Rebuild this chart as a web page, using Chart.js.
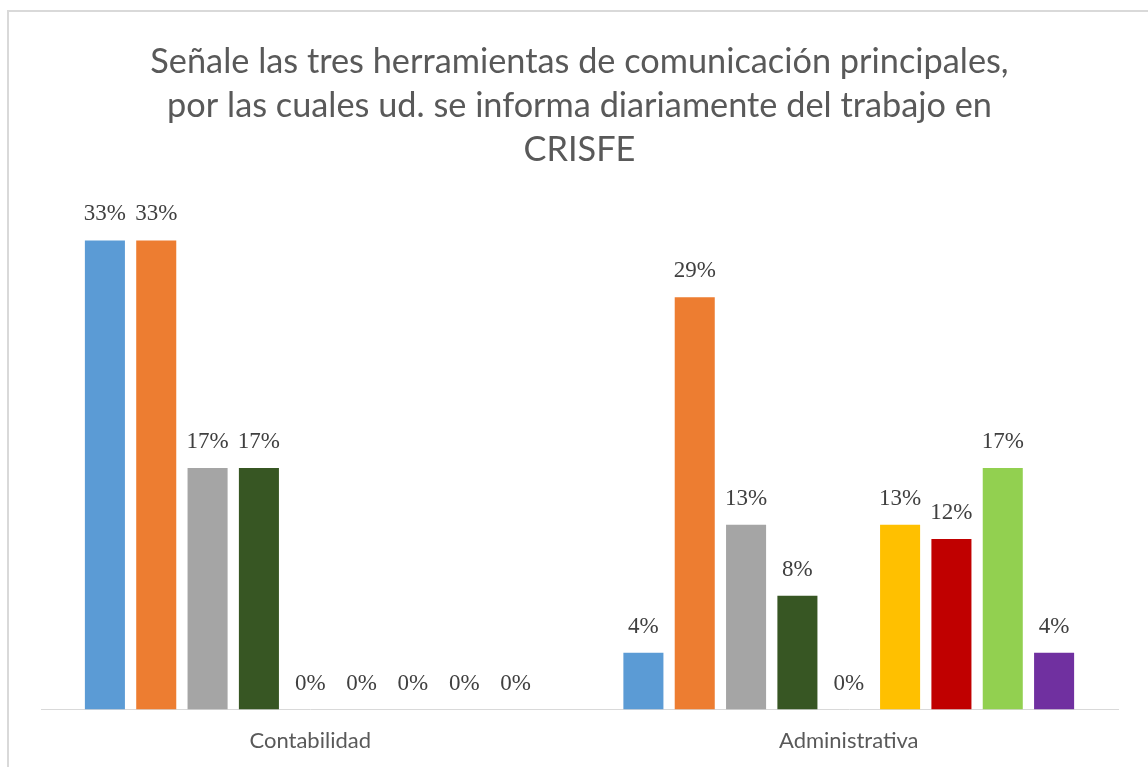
<!DOCTYPE html>
<html>
<head>
<meta charset="utf-8">
<script src="https://cdn.jsdelivr.net/npm/chart.js@4.4.0/dist/chart.umd.min.js"></script>
<style>
    html, body { margin: 0; padding: 0; background: #fff; overflow: hidden; }
    #frame { position: absolute; left: 7px; top: 10px; width: 1160px; height: 780px; border: 2px solid #d9d9d9; box-sizing: border-box; }
    #wrap { position: absolute; left: 0; top: 0; width: 1148px; height: 772px; }
</style>
</head>
<body>
<div id="frame"></div>
<div id="wrap"><canvas id="chart"></canvas></div>
<script>
// Data (shares of answers)
const categories = ['Contabilidad', 'Administrativa'];
const seriesNames = ['Herramienta 1', 'Herramienta 2', 'Herramienta 3', 'Herramienta 4', 'Herramienta 5',
                     'Herramienta 6', 'Herramienta 7', 'Herramienta 8', 'Herramienta 9'];
const contabilidad = [0.33, 0.33, 0.17, 0.17, 0, 0, 0, 0, 0];
const administrativa = [0.04, 0.29, 0.13, 0.08, 0, 0.13, 0.12, 0.17, 0.04];
const colors = ['#5b9bd5', '#ed7d31', '#a5a5a5', '#375623', '#264478', '#ffc000', '#c00000', '#92d050', '#7030a0'];
const titleLines = [
    'Señale las tres herramientas de comunicación principales,',
    'por las cuales ud. se informa diariamente del trabajo en',
    'CRISFE'
];

const datasets = seriesNames.map((name, i) => ({
    label: name,
    data: [contabilidad[i], administrativa[i]],
    backgroundColor: colors[i],
    barPercentage: 0.78,
    categoryPercentage: 0.858
}));

// value labels above each bar
const valueLabels = {
    id: 'valueLabels',
    afterDatasetsDraw(chart) {
        const ctx = chart.ctx;
        ctx.save();
        ctx.font = '23px "Liberation Serif", "Times New Roman", serif';
        ctx.fillStyle = '#404040';
        ctx.textAlign = 'center';
        ctx.textBaseline = 'alphabetic';
        chart.data.datasets.forEach((ds, i) => {
            chart.getDatasetMeta(i).data.forEach((bar, j) => {
                const v = ds.data[j];
                ctx.fillText(Math.round(v * 100) + '%', bar.x, bar.y - 20);
            });
        });
        ctx.restore();
    }
};

const ctx = document.getElementById('chart').getContext('2d');
new Chart(ctx, {
    type: 'bar',
    data: { labels: categories, datasets },
    options: {
        responsive: true,
        maintainAspectRatio: false,
        animation: false,
        layout: { padding: { left: 41, right: 30, top: 40, bottom: 0 } },
        scales: {
            y: { display: false, min: 0, max: 0.35 },
            x: {
                grid: { display: false, drawTicks: false },
                border: { color: '#d9d9d9', width: 1 },
                ticks: { color: '#595959', font: { family: 'Lato', size: 22 }, padding: 18 }
            }
        },
        plugins: {
            legend: { display: false },
            tooltip: { enabled: false },
            title: {
                display: true,
                text: titleLines,
                color: '#595959',
                font: { family: 'Lato', size: 34.3, weight: 'normal', lineHeight: 1.283 },
                padding: { top: 0, bottom: 40 }
            }
        }
    },
    plugins: [valueLabels]
});
</script>
</body>
</html>
